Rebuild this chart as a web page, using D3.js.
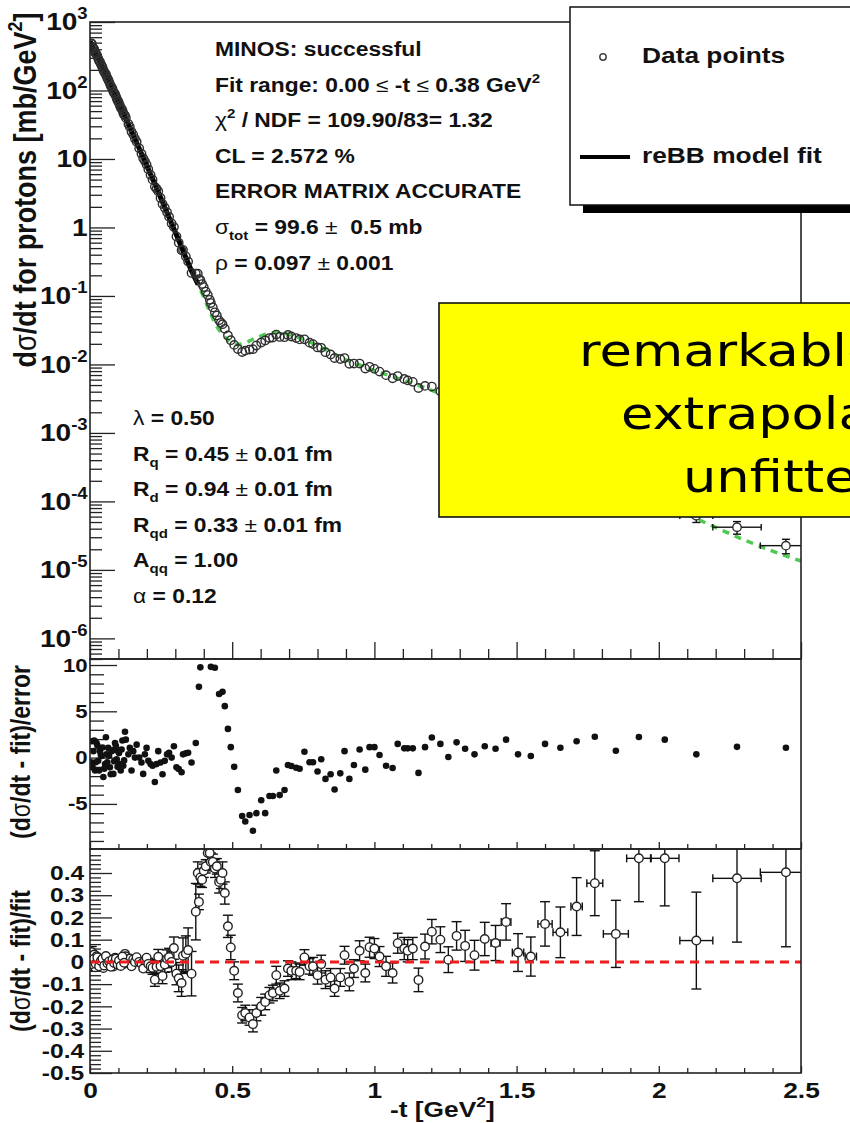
<!DOCTYPE html>
<html>
<head>
<meta charset="utf-8">
<script src="https://cdn.jsdelivr.net/npm/d3@7"></script>
<style>
  html, body { margin: 0; padding: 0; background: #fff; }
  svg { display: block; }
  text { font-family: "Liberation Sans", Arial, Helvetica, sans-serif; font-weight: bold; fill: #111; }
</style>
</head>
<body>
<svg id="chart" width="850" height="1123"></svg>
<script>
// ---------------- data: low -t region (fitted), run A ----------------
const tSmall = [0.006,0.009,0.015,0.018,0.023,0.029,0.035,0.041,0.047,0.053,
  0.058,0.064,0.070,0.076,0.082,0.088,0.094,0.099,0.105,0.111,
  0.117,0.123,0.126,0.135,0.140,0.146,0.152,0.158,0.164,0.173,
  0.181,0.187,0.193,0.199,0.205,0.213,0.220,0.228,0.234,0.240,
  0.248,0.255,0.263,0.271,0.278,0.287,0.295,0.304,0.312,0.322,
  0.327,0.337,0.345,0.357];
const dsdtSmall = [486,429,401,357,339,291,262,230,197,178,
  162,145,125,112,96.3,88.6,76.5,69.6,60.4,54.3,
  46.8,43.2,40.1,32.5,29.4,25.0,22.7,19.7,17.8,14.3,
  11.9,10.23,9.31,8.27,7.06,5.85,4.99,3.95,3.68,3.37,
  2.70,2.20,1.94,1.665,1.43,1.144,1.013,0.736,0.599,0.465,
  0.471,0.377,0.318,0.2165];
const relSmall = [0.044,-0.021,0.033,-0.024,0.025,-0.005,0.01,0.003,-0.027,-0.009,
  0.004,0.013,-0.013,0.008,-0.021,0.019,-0.002,0.008,-0.009,0.011,
  -0.011,0.036,0.025,0.005,0.015,-0.02,0.011,0,0.021,0,
  -0.008,-0.03,0.006,0.019,-0.009,-0.02,-0.026,-0.08,-0.022,0.023,
  -0.019,-0.063,-0.012,0.014,0.021,0,0.062,-0.053,-0.074,-0.095,
  0.028,0.037,0.053,-0.053];
const relErrSmall = [0.025,0.02,0.018,0.017,0.016,0.015,0.014,0.014,0.013,0.013,
  0.012,0.012,0.012,0.012,0.012,0.012,0.012,0.012,0.013,0.013,
  0.013,0.013,0.013,0.014,0.014,0.014,0.015,0.015,0.015,0.016,
  0.016,0.017,0.017,0.018,0.025,0.028,0.03,0.03,0.032,0.033,
  0.035,0.035,0.035,0.04,0.04,0.045,0.05,0.05,0.06,0.06,
  0.08,0.08,0.1,0.1];
const pullSmall = [1.76,-1.05,1.83,-1.4,1.58,-0.35,0.7,0.18,-2.1,-0.7,
  0.35,1.05,-1.05,0.7,-1.76,1.58,-0.18,0.7,-0.7,0.88,
  -0.88,2.8,1.94,0.35,1.05,-1.4,0.7,0,1.4,0,
  -0.53,-1.76,0.35,1.05,-0.35,-0.7,-0.88,-2.64,-0.7,0.7,
  -0.53,-1.8,-0.35,0.35,0.53,0,1.23,-1.05,-1.23,-1.58,
  0.35,0.46,0.53,-0.53];
const tErrSmall = [0.002,0.002,0.002,0.002,0.002,0.002,0.002,0.002,0.002,0.002,
  0.002,0.002,0.002,0.002,0.002,0.002,0.002,0.002,0.002,0.002,
  0.002,0.002,0.002,0.002,0.002,0.002,0.002,0.002,0.002,0.002,
  0.002,0.002,0.002,0.002,0.004,0.004,0.004,0.004,0.004,0.004,
  0.004,0.004,0.004,0.004,0.004,0.004,0.004,0.004,0.004,0.004,
  0.004,0.004,0.004,0.004];

// ---------------- data: low -t region (fitted), run B ----------------
const tSmallB = [0.004,0.012,0.020,0.026,0.032,0.038,0.044,0.050,0.056,0.061,
  0.067,0.073,0.079,0.085,0.091,0.097,0.102,0.108,0.114,0.120];
const dsdtSmallB = [480,417,348,317,269.7,244.5,218.5,187.5,172.9,151.1,
  134.6,116.1,105.8,92.0,82.8,71.1,65.2,56.2,51.6,44.2];
const relSmallB = [-0.01,0.012,-0.008,0.02,-0.02,0.004,0.014,-0.016,0.026,-0.006,
  0.002,-0.022,0.01,-0.005,0.015,-0.012,0.006,-0.018,0.024,-0.004];
const relErrSmallB = [0.025,0.018,0.016,0.015,0.014,0.014,0.013,0.013,0.012,0.012,
  0.012,0.012,0.012,0.012,0.012,0.012,0.012,0.013,0.013,0.013];
const pullSmallB = [-0.5,0.7,-0.5,1.3,-1.4,0.3,1.1,-1.2,2.2,-0.5,
  0.2,-1.8,0.8,-0.4,1.25,-1.0,0.5,-1.4,1.85,-0.3];
const tErrSmallB = [0.002,0.002,0.002,0.002,0.002,0.002,0.002,0.002,0.002,0.002,
  0.002,0.002,0.002,0.002,0.002,0.002,0.002,0.002,0.002,0.002];

// ---------------- data: dip and large -t region ----------------
const tLarge = [0.372,0.379,0.383,0.388,0.394,0.400,0.407,0.414,0.421,0.425,
  0.432,0.439,0.446,0.454,0.460,0.466,0.474,0.485,0.495,0.507,
  0.520,0.535,0.546,0.561,0.573,0.585,0.602,0.616,0.631,0.643,
  0.655,0.667,0.684,0.696,0.708,0.725,0.737,0.754,0.772,0.784,
  0.800,0.813,0.828,0.846,0.860,0.880,0.895,0.912,0.928,0.948,
  0.968,0.983,1.000,1.018,1.041,1.064,1.082,1.105,1.117,1.135,
  1.155,1.178,1.202,1.232,1.260,1.289,1.319,1.352,1.388,1.426,
  1.463,1.505,1.550,1.600,1.654,1.711,1.775,1.849,1.930,2.021,
  2.132,2.275,2.447];
const dsdtLarge = [0.212,0.211,0.176,0.171,0.149,0.1346,0.116,0.103,0.0879,0.0787,
  0.0681,0.0577,0.0520,0.0440,0.0405,0.0387,0.0331,0.0265,0.0226,0.0193,
  0.0168,0.0152,0.0159,0.0165,0.0167,0.0189,0.0209,0.0224,0.0243,0.0247,
  0.0273,0.0252,0.0250,0.0269,0.0256,0.0243,0.0232,0.0233,0.0208,0.0198,
  0.0177,0.0175,0.0151,0.0140,0.0124,0.0120,0.0124,0.0102,0.0103,0.0103,
  0.00869,0.00923,0.00862,0.00786,0.00698,0.00628,0.00676,0.00614,0.00585,0.00557,
  0.00453,0.00486,0.00475,0.00405,0.00330,0.00322,0.00270,0.00223,0.00203,0.00167,
  0.00152,0.00110,0.000877,0.000792,0.000590,0.000494,0.000396,0.000232,0.000207,0.000136,
  6.15e-5,4.20e-5,2.26e-5];
const relLarge = [0.226,0.40,0.27,0.38,0.37,0.41,0.43,0.49,0.49,0.45,
  0.45,0.42,0.43,0.36,0.37,0.40,0.31,0.16,0.065,-0.04,
  -0.14,-0.24,-0.23,-0.25,-0.28,-0.23,-0.20,-0.18,-0.15,-0.14,
  -0.06,-0.13,-0.12,-0.03,-0.04,-0.04,-0.045,0.02,-0.02,-0.02,
  -0.06,-0.01,-0.08,-0.07,-0.12,-0.07,0.03,-0.09,-0.03,0.05,
  -0.05,0.066,0.06,0.024,-0.02,-0.05,0.084,0.06,0.05,0.06,
  -0.081,0.069,0.136,0.10,0.01,0.117,0.072,0.03,0.103,0.085,
  0.18,0.042,0.024,0.171,0.133,0.249,0.354,0.126,0.466,0.466,
  0.096,0.376,0.403];
const relErrLarge = [0.127,0.05,0.035,0.04,0.035,0.03,0.03,0.03,0.03,0.04,
  0.035,0.04,0.035,0.05,0.04,0.05,0.05,0.05,0.055,0.04,
  0.04,0.035,0.035,0.035,0.035,0.035,0.04,0.035,0.035,0.035,
  0.04,0.035,0.035,0.035,0.04,0.035,0.035,0.035,0.035,0.04,
  0.04,0.04,0.04,0.04,0.035,0.04,0.04,0.04,0.04,0.045,
  0.04,0.045,0.045,0.045,0.045,0.045,0.045,0.05,0.05,0.05,
  0.053,0.056,0.055,0.058,0.058,0.064,0.07,0.067,0.075,0.079,
  0.082,0.085,0.088,0.10,0.114,0.13,0.146,0.151,0.195,0.214,
  0.218,0.287,0.335];
const pullLarge = [1.58,12.0,7.64,9.75,10.9,13.0,14.0,16.0,16.0,9.8,
  12.0,9.7,12.0,6.87,11.0,7.1,5.56,3.1,1.13,-1.0,
  -3.5,-6.3,-6.9,-6.2,-7.9,-6.0,-4.6,-6.0,-4.15,-4.15,
  -1.4,-4.05,-3.5,-0.8,-0.9,-1.1,-1.2,0.63,-0.5,-0.5,
  -1.5,-0.18,-2.3,-1.8,-3.45,-1.7,0.7,-2.3,-0.8,0.88,
  -1.3,1.13,1.13,0.28,-0.88,-1.13,1.48,1.0,1.0,1.0,
  -1.65,1.13,2.18,1.48,0.07,1.65,0.95,0.35,1.23,0.95,
  1.94,0.35,0.18,1.48,1.06,1.76,2.25,0.74,2.22,1.94,
  0.35,1.16,1.06];
const tErrLarge = [0.005,0.005,0.005,0.005,0.005,0.005,0.005,0.005,0.005,0.005,
  0.005,0.005,0.005,0.005,0.005,0.005,0.005,0.005,0.005,0.005,
  0.005,0.005,0.005,0.005,0.005,0.005,0.006,0.006,0.006,0.006,
  0.006,0.006,0.006,0.006,0.006,0.006,0.006,0.006,0.006,0.006,
  0.006,0.006,0.006,0.006,0.007,0.007,0.007,0.007,0.007,0.007,
  0.007,0.007,0.008,0.008,0.008,0.008,0.008,0.009,0.009,0.009,
  0.010,0.010,0.011,0.012,0.012,0.013,0.013,0.014,0.015,0.016,
  0.017,0.02,0.02,0.025,0.026,0.02,0.028,0.044,0.043,0.05,
  0.058,0.085,0.09];

// ---------------- reBB model curve ----------------
const fitT = [0,0.05,0.10,0.15,0.20,0.25,0.30,0.34,0.36,0.38,
  0.40,0.42,0.44,0.46,0.48,0.50,0.52,0.54,0.56,0.58,
  0.60,0.63,0.66,0.69,0.72,0.76,0.80,0.85,0.90,0.95,
  1.00,1.05,1.10,1.15,1.20,1.30,1.40,1.50,1.60,1.70,
  1.80,1.90,2.00,2.10,2.20,2.30,2.40,2.50];
const fitVals = [525,191,67.6,23.4,7.94,2.63,0.851,0.340,0.219,0.148,
  0.0955,0.0603,0.0398,0.0295,0.0237,0.0204,0.0195,0.0202,0.0219,0.0240,
  0.0260,0.0285,0.0292,0.0282,0.0257,0.0224,0.0188,0.0148,0.0117,0.00977,
  0.00813,0.00692,0.00589,0.00501,0.00422,0.00275,0.00174,0.00108,6.76e-4,4.17e-4,
  2.60e-4,1.62e-4,1.02e-4,6.46e-5,4.17e-5,2.75e-5,1.88e-5,1.35e-5];
const fitRangeMax = 0.38;

// ---------------- tick labels ----------------
const xTickValues = [0, 0.5, 1, 1.5, 2, 2.5];
const xTickLabels = ["0", "0.5", "1", "1.5", "2", "2.5"];
const yTopTicks = [1e-6, 1e-5, 1e-4, 1e-3, 1e-2, 1e-1, 1, 10, 1e2, 1e3];
const yTopBase = ["10", "10", "10", "10", "10", "10", "1", "10", "10", "10"];
const yTopExp = ["-6", "-5", "-4", "-3", "-2", "-1", "", "", "2", "3"];
const yMidTicks = [-5, 0, 5, 10];
const yMidLabels = ["-5", "0", "5", "10"];
const yBotTicks = [-0.5, -0.4, -0.3, -0.2, -0.1, 0, 0.1, 0.2, 0.3, 0.4];
const yBotLabels = ["-0.5", "-0.4", "-0.3", "-0.2", "-0.1", "0", "0.1", "0.2", "0.3", "0.4"];

// ---------------- assembled point table ----------------
const allT = tSmall.concat(tSmallB, tLarge);
const allDsdt = dsdtSmall.concat(dsdtSmallB, dsdtLarge);
const allRel = relSmall.concat(relSmallB, relLarge);
const allRelErr = relErrSmall.concat(relErrSmallB, relErrLarge);
const allPull = pullSmall.concat(pullSmallB, pullLarge);
const allTErr = tErrSmall.concat(tErrSmallB, tErrLarge);
const points = allT.map((t, i) => ({
  t, dsdt: allDsdt[i], rel: allRel[i], relErr: allRelErr[i], pull: allPull[i], tErr: allTErr[i]
}));
const fitCurve = fitT.map((t, i) => ({ t, v: fitVals[i] }));

// ---------------- layout ----------------
const SX = 1.17;            // horizontal text stretch of the slide
const L = 90, R = 801;
const topP = [22, 659], midP = [659, 849], botP = [849, 1073];
const INK = "#222";

const svg = d3.select("#chart");
const x = d3.scaleLinear().domain([0, 2.5]).range([L, R]);
const yTop = d3.scaleLog().domain([5e-7, 1e3]).range([topP[1], topP[0]]);
const yMid = d3.scaleLinear().domain([-9.87, 10.65]).range([midP[1], midP[0]]);
const yBot = d3.scaleLinear().domain([-0.5, 0.508]).range([botP[1], botP[0]]);

// rich text (sub/superscripts, greek in regular weight)
function fillRich(sel, parts, size) {
  sel.text(null);
  let off = 0;
  parts.forEach(p => {
    const [s, kind] = typeof p === "string" ? [p, "n"] : p;
    let target = 0, fs = size;
    if (kind === "sup") { target = -0.45 * size; fs = 0.66 * size; }
    else if (kind === "sub") { target = 0.3 * size; fs = 0.66 * size; }
    const ts = sel.append("tspan").text(s).style("font-size", fs + "px");
    if (target - off !== 0) ts.attr("dy", target - off);
    if (kind === "g") ts.style("font-weight", "normal");
    off = target;
  });
}
function addText(parent, px, py, parts, size, opts = {}) {
  const sx = opts.sx || SX;
  const t = parent.append("text")
    .attr("transform", `translate(${px},${py}) scale(${sx},1)` + (opts.rotate ? ` rotate(${opts.rotate})` : ""))
    .attr("text-anchor", opts.anchor || "start")
    .style("font-size", size + "px")
    .style("white-space", "pre");
  if (opts.family) t.style("font-family", opts.family);
  if (opts.weight) t.style("font-weight", opts.weight);
  if (opts.fill) t.style("fill", opts.fill);
  fillRich(t, parts, size);
  return t;
}

// clip regions
const defs = svg.append("defs");
[["clipTop", topP], ["clipMid", midP], ["clipBot", botP]].forEach(([id, p]) => {
  defs.append("clipPath").attr("id", id).append("rect")
    .attr("x", L).attr("y", p[0]).attr("width", R - L).attr("height", p[1] - p[0]);
});

// ---------------- axes (ticks) ----------------
const xMinor = d3.range(1, 25).map(k => k / 10).filter(v => Math.abs(v * 2 - Math.round(v * 2)) > 1e-6);
function styleAxis(g) {
  g.select(".domain").remove();
  g.attr("color", INK);
  g.selectAll(".tick line").attr("stroke-width", 1.3);
}
function xTicks(yPos, majorLen, minorLen) {
  svg.append("g").attr("transform", `translate(0,${yPos})`)
    .call(d3.axisBottom(x).tickValues(xMinor).tickSize(-minorLen).tickFormat(""))
    .call(styleAxis);
  svg.append("g").attr("transform", `translate(0,${yPos})`)
    .call(d3.axisBottom(x).tickValues(xTickValues).tickSize(-majorLen).tickFormat(""))
    .call(styleAxis);
}
xTicks(topP[1], 17, 10);
xTicks(midP[1], 7, 5);
const xLab = svg.append("g").attr("transform", `translate(0,${botP[1]})`)
  .call(d3.axisBottom(x).tickValues(xTickValues).tickSize(-7).tickFormat((d, i) => xTickLabels[i]))
  .call(styleAxis);
svg.append("g").attr("transform", `translate(0,${botP[1]})`)
  .call(d3.axisBottom(x).tickValues(xMinor).tickSize(-5).tickFormat(""))
  .call(styleAxis);
xLab.selectAll(".tick text")
  .attr("y", 25).attr("dy", 0)
  .attr("transform", `scale(${SX},1)`)
  .style("font-size", "22.5px").style("fill", "#111");

// top panel log axis
const yTopMinor = [];
for (let e = -7; e <= 2; e++) for (let k = 2; k <= 9; k++) {
  const v = k * Math.pow(10, e);
  if (v >= 5e-7 && v <= 1e3) yTopMinor.push(v);
}
svg.append("g").attr("transform", `translate(${L},0)`)
  .call(d3.axisLeft(yTop).tickValues(yTopMinor).tickSize(-12).tickFormat(""))
  .call(styleAxis);
const yTopAx = svg.append("g").attr("transform", `translate(${L},0)`)
  .call(d3.axisLeft(yTop).tickValues(yTopTicks).tickSize(-25).tickPadding(2).tickFormat(""))
  .call(styleAxis);
yTopAx.selectAll(".tick text").each(function (d, i) {
  const t = d3.select(this)
    .attr("transform", `scale(${SX},1)`)
    .style("font-size", "24px").style("fill", "#111");
  const parts = [yTopBase[i]];
  if (yTopExp[i]) parts.push([yTopExp[i], "sup"]);
  fillRich(t, parts, 24);
});

// middle panel
svg.append("g").attr("transform", `translate(${L},0)`)
  .call(d3.axisLeft(yMid).tickValues(d3.range(-9, 11).filter(v => v % 5 !== 0)).tickSize(-14).tickFormat(""))
  .call(styleAxis);
svg.append("g").attr("transform", `translate(${L},0)`)
  .call(d3.axisLeft(yMid).tickValues(yMidTicks).tickSize(-27).tickPadding(2).tickFormat((d, i) => yMidLabels[i]))
  .call(styleAxis)
  .selectAll(".tick text")
  .attr("transform", `scale(${SX},1)`)
  .style("font-size", "19px").style("fill", "#111");

// bottom panel
svg.append("g").attr("transform", `translate(${L},0)`)
  .call(d3.axisLeft(yBot).tickValues(d3.range(-24, 26).map(k => k / 50).filter(v => Math.abs(v * 10 - Math.round(v * 10)) > 1e-6)).tickSize(-11).tickFormat(""))
  .call(styleAxis);
svg.append("g").attr("transform", `translate(${L},0)`)
  .call(d3.axisLeft(yBot).tickValues(yBotTicks).tickSize(-22).tickPadding(5).tickFormat((d, i) => yBotLabels[i]))
  .call(styleAxis)
  .selectAll(".tick text")
  .attr("transform", `scale(${SX},1)`)
  .style("font-size", "21px").style("fill", "#111");

// ---------------- top panel: data, model ----------------
const gTop = svg.append("g").attr("clip-path", "url(#clipTop)");
const lineTop = d3.line().x(d => x(d.t)).y(d => yTop(d.v)).curve(d3.curveMonotoneX);

// error bars with end caps, kept outside the marker
function errorBars(g, cx, cy, x0, x1, y0, y1, r, cap) {
  const segs = [];
  if (y0 < cy - r) segs.push([cx, y0, cx, cy - r], [cx - cap, y0, cx + cap, y0]);
  if (y1 > cy + r) segs.push([cx, cy + r, cx, y1], [cx - cap, y1, cx + cap, y1]);
  if (x0 < cx - r) segs.push([x0, cy, cx - r, cy], [x0, cy - cap * 0.8, x0, cy + cap * 0.8]);
  if (x1 > cx + r) segs.push([cx + r, cy, x1, cy], [x1, cy - cap * 0.8, x1, cy + cap * 0.8]);
  segs.forEach(s => g.append("line")
    .attr("x1", s[0]).attr("y1", s[1]).attr("x2", s[2]).attr("y2", s[3])
    .attr("stroke", "#111").attr("stroke-width", 1.4));
}

// model: extrapolation (dashed green) underneath, fitted range (solid black) over it
gTop.append("path").datum(fitCurve)
  .attr("d", lineTop).attr("fill", "none").attr("stroke", "#4fc94f")
  .attr("stroke-width", 3.5).attr("stroke-dasharray", "7,6");
gTop.append("path").datum(fitCurve.filter(d => d.t <= fitRangeMax))
  .attr("d", lineTop).attr("fill", "none").attr("stroke", "#000").attr("stroke-width", 5);

points.forEach(p => {
  const err = p.dsdt / (1 + p.rel) * p.relErr;
  errorBars(gTop, x(p.t), yTop(p.dsdt), x(p.t - p.tErr), x(p.t + p.tErr),
    yTop(p.dsdt + err), yTop(Math.max(p.dsdt - err, 1e-9)), 4, 4);
});
gTop.selectAll("circle.pt").data(points).join("circle")
  .attr("class", "pt")
  .attr("cx", d => x(d.t)).attr("cy", d => yTop(d.dsdt)).attr("r", 4.2)
  .attr("fill", "none").attr("stroke", "#2e2e2e").attr("stroke-width", 1.4);

// ---------------- middle panel: pulls ----------------
const gMid = svg.append("g").attr("clip-path", "url(#clipMid)");
gMid.selectAll("circle").data(points).join("circle")
  .attr("cx", d => x(d.t)).attr("cy", d => yMid(d.pull)).attr("r", 3.3)
  .attr("fill", "#111");

// ---------------- bottom panel: relative deviation ----------------
const gBot = svg.append("g").attr("clip-path", "url(#clipBot)");
points.forEach(p => {
  errorBars(gBot, x(p.t), yBot(p.rel), x(p.t - p.tErr), x(p.t + p.tErr),
    yBot(p.rel + p.relErr), yBot(p.rel - p.relErr), 4.3, 5);
});
gBot.selectAll("circle").data(points).join("circle")
  .attr("cx", d => x(d.t)).attr("cy", d => yBot(d.rel)).attr("r", 4.3)
  .attr("fill", "#fff").attr("stroke", "#222").attr("stroke-width", 1.4);
gBot.append("line")
  .attr("x1", L).attr("x2", R).attr("y1", yBot(0)).attr("y2", yBot(0))
  .attr("stroke", "#ee1c1c").attr("stroke-width", 3).attr("stroke-dasharray", "9,6");

// ---------------- frames ----------------
[topP, midP, botP].forEach(p => {
  svg.append("rect").attr("x", L).attr("y", p[0]).attr("width", R - L).attr("height", p[1] - p[0])
    .attr("fill", "none").attr("stroke", INK).attr("stroke-width", 1.6);
});

// ---------------- axis titles ----------------
addText(svg, 36, 190, ["d", ["σ", "g"], "/dt for protons [mb/GeV", ["2", "sup"], "]"], 27, { anchor: "middle", rotate: -90 });
addText(svg, 30, 752, ["(d", ["σ", "g"], "/dt - fit)/error"], 23, { anchor: "middle", rotate: -90 });
addText(svg, 30, 961, ["(d", ["σ", "g"], "/dt - fit)/fit"], 23, { anchor: "middle", rotate: -90 });
addText(svg, 390, 1117, ["-t [GeV", ["2", "sup"], "]"], 22.5);

// ---------------- fit summary ----------------
const stats = [
  ["MINOS: successful"],
  ["Fit range: 0.00 ", ["≤", "g"], " -t ", ["≤", "g"], " 0.38 GeV", ["2", "sup"]],
  [["χ", "g"], ["2", "sup"], " / NDF = 109.90/83= 1.32"],
  ["CL = 2.572 %"],
  ["ERROR MATRIX ACCURATE"],
  [["σ", "g"], ["tot", "sub"], " = 99.6 ", ["±", "g"], "  0.5 mb"],
  [["ρ", "g"], " = 0.097 ", ["±", "g"], " 0.001"]
];
const statsY = [56, 92, 127, 163, 198, 234, 270];
stats.forEach((s, i) => addText(svg, 215, statsY[i], s, 19.5));

const params = [
  [["λ", "g"], " = 0.50"],
  ["R", ["q", "sub"], " = 0.45 ", ["±", "g"], " 0.01 fm"],
  ["R", ["d", "sub"], " = 0.94 ", ["±", "g"], " 0.01 fm"],
  ["R", ["qd", "sub"], " = 0.33 ", ["±", "g"], " 0.01 fm"],
  ["A", ["qq", "sub"], " = 1.00"],
  [["α", "g"], " = 0.12"]
];
const paramsY = [425, 461, 496, 532, 567, 603];
params.forEach((s, i) => addText(svg, 133, paramsY[i], s, 19.5));

// ---------------- legend ----------------
svg.append("rect").attr("x", 583).attr("y", 14).attr("width", 300).attr("height", 199).attr("fill", "#000");
svg.append("rect").attr("x", 570).attr("y", 7).attr("width", 300).attr("height", 198)
  .attr("fill", "#fff").attr("stroke", "#111").attr("stroke-width", 1.5);
svg.append("circle").attr("cx", 603).attr("cy", 57).attr("r", 3.2)
  .attr("fill", "none").attr("stroke", "#444").attr("stroke-width", 1.5);
addText(svg, 642, 63, ["Data points"], 22.5);
svg.append("line").attr("x1", 580).attr("x2", 630).attr("y1", 157).attr("y2", 157)
  .attr("stroke", "#000").attr("stroke-width", 4);
addText(svg, 642, 163, ["reBB model fit"], 22.5);

// ---------------- annotation box ----------------
svg.append("rect").attr("x", 439).attr("y", 303).attr("width", 440).attr("height", 214)
  .attr("fill", "#ffff00").attr("stroke", "#111").attr("stroke-width", 1.6);
const note = [["remarkable", 579, 366], ["extrapolation to", 621, 429], ["unfitted region", 683, 492]];
note.forEach(([s, nx, ny]) => addText(svg, nx, ny, [s], 45,
  { family: "'DejaVu Sans', Verdana, sans-serif", weight: "normal", fill: "#000" }));
</script>
</body>
</html>
